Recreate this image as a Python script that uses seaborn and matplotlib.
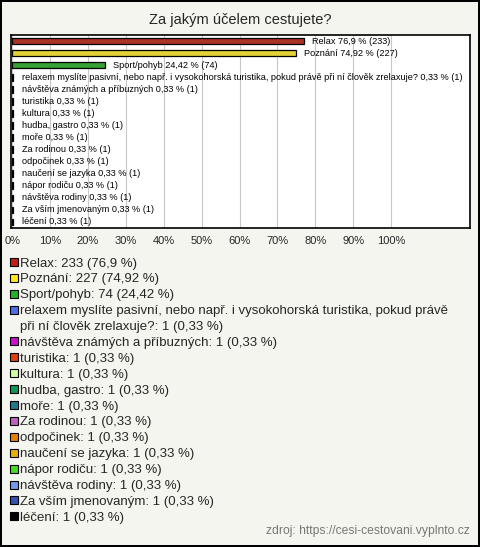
import matplotlib
matplotlib.use('Agg')
import matplotlib.pyplot as plt
import seaborn as sns
import pandas as pd
from matplotlib.patches import Rectangle

# --- data --------------------------------------------------------------
categories = [
    'Relax', 'Poznání', 'Sport/pohyb',
    'relaxem myslíte pasivní, nebo např. i vysokohorská turistika, '
    'pokud právě při ní člověk zrelaxuje?',
    'návštěva známých a příbuzných', 'turistika', 'kultura',
    'hudba, gastro', 'moře', 'Za rodinou', 'odpočinek',
    'naučení se jazyka', 'nápor rodiču', 'návštěva rodiny',
    'Za vším jmenovaným', 'léčení',
]
counts = [233, 227, 74, 1, 1, 1, 1, 1, 1, 1, 1, 1, 1, 1, 1, 1]
percents = [76.9, 74.92, 24.42] + [0.33] * 13
pct_text = ['76,9', '74,92', '24,42'] + ['0,33'] * 13
colors = ['#C0220C', '#FFE81A', '#22B422', '#4A6FE8', '#CC10CC', '#E0400C',
          '#CCFF99', '#0A9A55', '#1E7A8C', '#C060C0', '#E88000', '#E8B000',
          '#44DD22', '#6F9AEE', '#2F55B0', '#000000']
tick_vals = list(range(0, 101, 10))
tick_labels = [f'{v}%' for v in tick_vals]

title = 'Za jakým účelem cestujete?'
source = 'zdroj: https://cesi-cestovani.vyplnto.cz'

bg = '#F5F5EF'
W, H = 480, 547

sns.set_theme(style='white')
plt.rcParams['font.family'] = ['Liberation Sans', 'DejaVu Sans']

fig = plt.figure(figsize=(W / 100, H / 100), dpi=100, facecolor=bg,
                 edgecolor='black', linewidth=1.5)
ax = fig.add_axes([11 / W, 1 - 228 / H, 459 / W, 193 / H])
ax.set_facecolor('white')

df = pd.DataFrame({'category': categories, 'percent': percents})
sns.barplot(data=df, x='percent', y='category', hue='category',
            palette=colors, legend=False, width=0.55, orient='h',
            edgecolor='black', linewidth=0.9, ax=ax, zorder=3)

# labels next to bars
for i, (name, p, pt, c) in enumerate(zip(categories, percents,
                                          pct_text, counts)):
    ax.annotate(f'{name} {pt} % ({c})', xy=(p, i), xytext=(6, 0),
                textcoords='offset points', va='center', ha='left',
                fontsize=6.6, color='black', zorder=4)

ax.set_xlim(-0.3, 120.8)
ax.set_xticks(tick_vals)
ax.set_xticklabels(tick_labels, fontsize=8)
ax.set_yticks([])
ax.set_xlabel('')
ax.set_ylabel('')
ax.tick_params(axis='x', length=0, pad=6)
ax.grid(axis='x', color='#C8C8C8', linewidth=0.8, zorder=0)
for s in ax.spines.values():
    s.set_color('black')
    s.set_linewidth(1.2)

fig.text(0.5, 1 - 20 / H, title, ha='center', va='center', fontsize=10.5)

# legend, one row per category (long one wraps onto a second line)
line_h = 15.9
y = 262
for name, c, pt, col in zip(categories, counts, pct_text, colors):
    label = f'{name}: {c} ({pt} %)'
    rows = [label]
    if name.startswith('relaxem'):
        rows = label.split(' při ní', 1)
        rows[1] = 'při ní' + rows[1]
    fig.add_artist(Rectangle((10 / W, 1 - (y + 4) / H), 8 / W, 8 / H,
                             transform=fig.transFigure, facecolor=col,
                             edgecolor='black', linewidth=0.8))
    for row in rows:
        fig.text(20 / W, 1 - (y + 4.5) / H, row, ha='left',
                 va='baseline', fontsize=9.5)
        y += line_h

fig.text(470 / W, 1 - 531 / H, source, ha='right', va='center',
         fontsize=8.7, color='#777777')

fig.savefig('out.png', dpi=100, facecolor=bg)
